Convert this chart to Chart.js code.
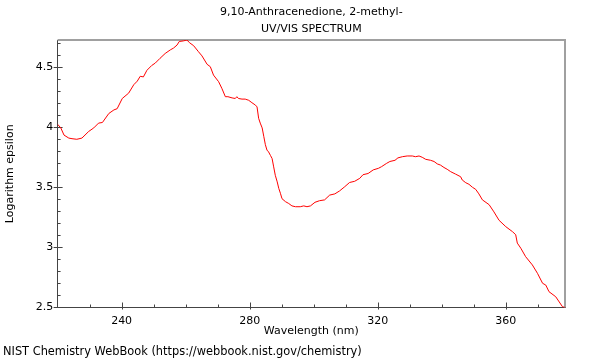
<!DOCTYPE html>
<html>
<head>
<meta charset="utf-8">
<script src="https://cdn.jsdelivr.net/npm/chart.js@4/dist/chart.umd.min.js"></script>
<style>
  html, body { margin: 0; padding: 0; background: #fff; }
  #wrap { width: 600px; height: 360px; }
</style>
</head>
<body>
<div id="wrap"><canvas id="c" width="600" height="360"></canvas></div>
<script>
// ---- data ----
const titleLines = ["9,10-Anthracenedione, 2-methyl-", "UV/VIS SPECTRUM"];
const xAxisTitle = "Wavelength (nm)";
const yAxisTitle = "Logarithm epsilon";
const footerText = "NIST Chemistry WebBook (https://webbook.nist.gov/chemistry)";
const xTickLabels = [240, 280, 320, 360];
const yTickLabels = [2.5, 3, 3.5, 4, 4.5];

const wavelengths = [
  220.0, 221.0, 222.0, 223.5, 224.5, 226.0, 227.6, 229.7, 231.3, 232.8,
  234.0, 236.0, 237.6, 238.6, 240.2, 242.2, 243.8, 244.9, 245.8, 246.8,
  247.9, 249.4, 250.5, 252.0, 253.6, 255.2, 256.2, 257.3, 258.0, 259.3,
  260.4, 261.2, 262.5, 264.0, 265.1, 266.7, 267.7, 268.7, 270.3, 271.3,
  272.4, 273.2, 274.5, 275.5, 276.0, 276.5, 277.6, 278.6, 279.7, 280.7,
  281.8, 282.3, 282.8, 283.3, 283.9, 284.4, 284.9, 285.4, 285.9, 286.5,
  287.0, 287.5, 288.0, 288.6, 289.1, 289.6, 290.1, 291.2, 292.2, 293.2,
  294.3, 295.8, 296.9, 297.9, 299.0, 300.4, 301.8, 303.4, 305.0, 306.6,
  308.1, 309.7, 311.2, 312.8, 314.4, 315.4, 317.0, 318.6, 320.2, 321.2,
  322.8, 323.8, 325.4, 326.3, 327.7, 329.2, 330.8, 331.8, 332.9, 333.9,
  335.0, 336.5, 337.6, 338.6, 339.6, 340.7, 341.7, 342.8, 344.3, 345.9,
  346.4, 347.5, 348.5, 349.6, 350.6, 351.6, 352.7, 354.8, 356.3, 357.9,
  360.0, 362.1, 363.1, 363.6, 364.7, 366.2, 368.3, 369.9, 371.5, 372.5,
  373.5, 375.6, 377.7, 378.5
];
const logEpsilon = [
  4.02, 3.99, 3.93, 3.905, 3.90, 3.895, 3.905, 3.96, 3.99, 4.03,
  4.035, 4.11, 4.14, 4.15, 4.235, 4.28, 4.35, 4.38, 4.42, 4.415,
  4.47, 4.51, 4.53, 4.57, 4.61, 4.64, 4.655, 4.68, 4.71, 4.715,
  4.7225, 4.70, 4.675, 4.625, 4.59, 4.52, 4.50, 4.43, 4.375, 4.32,
  4.25, 4.25, 4.24, 4.235, 4.25, 4.235, 4.23, 4.23, 4.22, 4.20,
  4.18, 4.165, 4.07, 4.03, 3.99, 3.92, 3.85, 3.805, 3.79, 3.76,
  3.735, 3.665, 3.595, 3.54, 3.485, 3.445, 3.40, 3.375, 3.36, 3.34,
  3.333, 3.333, 3.34, 3.333, 3.34, 3.37, 3.383, 3.39, 3.43, 3.44,
  3.465, 3.50, 3.535, 3.545, 3.57, 3.60, 3.61, 3.64, 3.653, 3.667,
  3.695, 3.71, 3.72, 3.74, 3.75, 3.756, 3.756, 3.75, 3.756, 3.745,
  3.728, 3.72, 3.71, 3.69, 3.68, 3.66, 3.645, 3.625, 3.605, 3.583,
  3.556, 3.533, 3.52, 3.495, 3.478, 3.44, 3.39, 3.35, 3.29, 3.22,
  3.167, 3.125, 3.10, 3.03, 2.987, 2.917, 2.848, 2.778, 2.695, 2.68,
  2.625, 2.583, 2.50, 2.493
];

const xMin = 220, xMax = 378.5;
const yMin = 2.493, yMax = 4.7225;

// ---- chart ----
Chart.defaults.font.family = "'DejaVu Sans', sans-serif";
Chart.defaults.font.size = 11;
Chart.defaults.color = '#000';

const points = wavelengths.map((w, i) => ({ x: w, y: logEpsilon[i] }));

const frameAndTicks = {
  id: 'frameAndTicks',
  beforeDatasetsDraw(chart) {
    const { ctx, chartArea: a, scales: { x, y } } = chart;
    ctx.save();
    ctx.strokeStyle = '#a0a0a0';
    ctx.lineWidth = 2;
    ctx.beginPath();
    ctx.moveTo(a.left, a.top);
    ctx.lineTo(a.right, a.top);
    ctx.lineTo(a.right, a.bottom);
    ctx.stroke();
    ctx.strokeStyle = '#444';
    ctx.lineWidth = 1;
    ctx.beginPath();
    x.ticks.forEach(t => {
      if (t.value <= xMin || t.value >= xMax) return;
      const px = Math.round(x.getPixelForValue(t.value)) + 0.5;
      const major = t.label !== '';
      ctx.moveTo(px, a.bottom + (major ? 2 : 0));
      ctx.lineTo(px, a.bottom - (major ? 5 : 3));
    });
    y.ticks.forEach(t => {
      if (t.value < yMin || t.value > yMax) return;
      const py = Math.round(y.getPixelForValue(t.value)) + 0.5;
      const major = t.label !== '';
      ctx.moveTo(a.left - (major ? 4 : 0), py);
      ctx.lineTo(a.left + (major ? 5 : 3), py);
    });
    ctx.stroke();
    ctx.restore();
  }
};

new Chart(document.getElementById('c'), {
  type: 'line',
  data: {
    datasets: [{
      data: points,
      borderColor: 'rgb(255,0,0)',
      borderWidth: 1,
      pointRadius: 0,
      tension: 0,
      fill: false
    }]
  },
  options: {
    responsive: false,
    animation: false,
    devicePixelRatio: 1,
    layout: { padding: { left: 3, right: 35, top: 0, bottom: 0 } },
    plugins: {
      legend: { display: false },
      tooltip: { enabled: false },
      title: {
        display: true,
        text: titleLines,
        fullSize: false,
        font: { size: 11, weight: 'normal', lineHeight: 17 / 11 },
        color: '#000',
        padding: { top: 4, bottom: 2 }
      },
      subtitle: {
        display: true,
        text: footerText,
        position: 'bottom',
        align: 'start',
        fullSize: true,
        font: { size: 11.4, weight: 'normal' },
        color: '#000',
        padding: { top: 0, bottom: 1 }
      }
    },
    scales: {
      x: {
        type: 'linear',
        min: xMin,
        max: xMax,
        grid: { display: false, drawTicks: false },
        border: { display: true, color: '#444', width: 1 },
        ticks: {
          stepSize: 10,
          includeBounds: false,
          maxRotation: 0,
          autoSkip: false,
          padding: 7.4,
          color: '#000',
          callback: v => (xTickLabels.includes(Math.round(v)) && Math.abs(v - Math.round(v)) < 1e-6) ? String(Math.round(v)) : ''
        },
        title: {
          display: true,
          text: xAxisTitle,
          color: '#000',
          padding: { top: 0, bottom: 7.2 }
        },
        afterFit: s => { s.height = 37.8; }
      },
      y: {
        type: 'linear',
        min: yMin,
        max: yMax,
        grid: { display: false, drawTicks: false },
        border: { display: true, color: '#444', width: 1 },
        ticks: {
          stepSize: 0.1,
          includeBounds: false,
          autoSkip: false,
          padding: 4.3,
          color: '#000',
          callback: v => {
            const r = Math.round(v * 10) / 10;
            return yTickLabels.some(t => Math.abs(t - r) < 1e-6) ? String(r) : '';
          }
        },
        title: {
          display: true,
          text: yAxisTitle,
          color: '#000',
          padding: { top: 0.5, bottom: 0 }
        },
        afterFit: s => { s.width = 54.6; }
      }
    }
  },
  plugins: [frameAndTicks]
});
</script>
</body>
</html>
